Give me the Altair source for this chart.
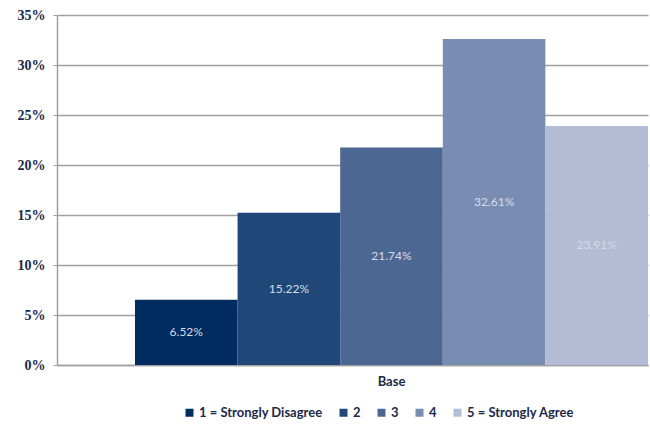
import altair as alt
import pandas as pd

# Survey responses on a 1-5 agreement scale, share of the base
series = ["1 = Strongly Disagree", "2", "3", "4", "5 = Strongly Agree"]
shares = [6.52, 15.22, 21.74, 32.61, 23.91]
colors = ["#002C5F", "#1F4879", "#4D6793", "#798DB3", "#B3BBD5"]
group = "Base"

df = pd.DataFrame({"group": [group] * len(series), "series": series, "share": shares})

ink = "#1B2A4A"
grid = "#A0A0A0"

x_enc = alt.X(
    "group:N",
    title=None,
    scale=alt.Scale(paddingInner=0, paddingOuter=0.076, align=1),
    axis=alt.Axis(
        labelAngle=0, labelFont="Lato", labelFontWeight="bold", labelFontSize=13,
        labelColor=ink, labelPadding=10, ticks=False, domainColor=grid, domainWidth=1.5,
        grid=False,
    ),
)
offset_enc = alt.XOffset("series:N", sort=series, scale=alt.Scale(paddingInner=0, paddingOuter=0))

bars = alt.Chart(df).mark_bar(opacity=1).encode(
    x=x_enc,
    xOffset=offset_enc,
    y=alt.Y(
        "share:Q",
        title=None,
        scale=alt.Scale(domain=[0, 35], nice=False),
        axis=alt.Axis(
            values=[0, 5, 10, 15, 20, 25, 30, 35],
            labelExpr="datum.value + '%'",
            labelFont="Liberation Serif", labelFontWeight="bold", labelFontSize=14,
            labelColor=ink, labelPadding=8, tickSize=4, tickColor=grid,
            domainColor=grid, domainWidth=1.5, gridColor=grid, gridWidth=1.3,
        ),
    ),
    color=alt.Color(
        "series:N",
        sort=series,
        scale=alt.Scale(domain=series, range=colors),
        legend=alt.Legend(
            title=None, orient="none", direction="horizontal", legendX=126, legendY=391,
            symbolType="square", symbolSize=64, symbolStrokeWidth=0, symbolOpacity=1,
            labelFont="Lato", labelFontWeight="bold", labelFontSize=13, labelColor=ink,
            labelOffset=3, columnPadding=14, labelLimit=300,
        ),
    ),
)

labels = alt.Chart(df).transform_calculate(
    mid="datum.share / 2",
    text="format(datum.share, '.2f') + '%'",
).mark_text(
    font="Lato", fontSize=12, color="#D6DCE8", baseline="middle", align="center",
).encode(
    x=alt.X("group:N"),
    xOffset=alt.XOffset("series:N", sort=series),
    y=alt.Y("mid:Q"),
    text="text:N",
)

chart = (
    alt.layer(bars, labels)
    .properties(
        width=591,
        height=350,
        autosize=alt.AutoSizeParams(type="none"),
        padding={"left": 57, "top": 15, "right": 2, "bottom": 59},
        background="white",
    )
    .configure_view(stroke=None)
)

chart.save("out.html", embed_options={"renderer": "svg", "actions": False})
